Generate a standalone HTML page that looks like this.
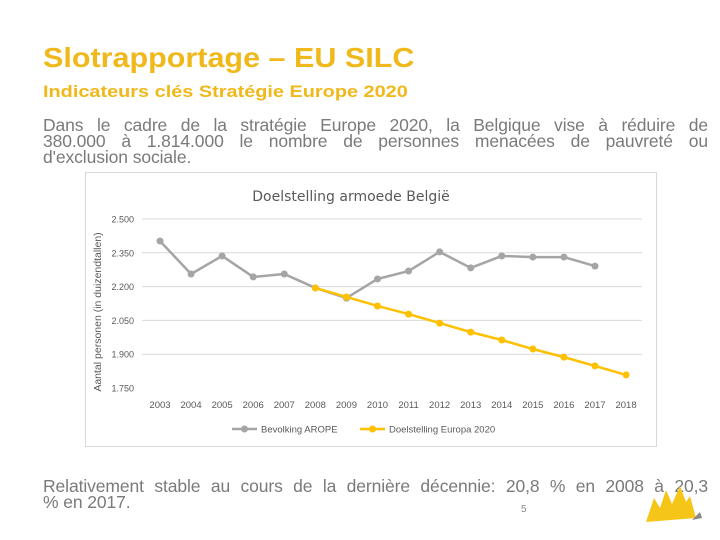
<!DOCTYPE html>
<html><head><meta charset="utf-8"><style>
body{margin:0;width:720px;height:540px;background:#fff;overflow:hidden;position:relative;font-family:"Liberation Sans",sans-serif}
.t{position:absolute;margin:0;white-space:nowrap}
.ln{position:absolute;left:43px;width:665px;font-size:17.5px;line-height:16px;color:#7a7a7a;text-align:justify;text-align-last:justify;white-space:normal;letter-spacing:-0.1px}
.last{text-align-last:left}
</style></head><body>
<h1 class="t" style="left:43px;top:42px;font-size:28px;font-weight:bold;color:#f0b81a;transform:scaleX(1.09);transform-origin:left top">Slotrapportage – EU SILC</h1>
<h2 class="t" style="left:43px;top:82px;font-size:17px;font-weight:bold;color:#f0b81a;transform:scaleX(1.17);transform-origin:left top">Indicateurs clés Stratégie Europe 2020</h2>
<div>
<div class="ln" style="top:117px">Dans le cadre de la stratégie Europe 2020, la Belgique vise à réduire de</div>
<div class="ln" style="top:133px">380.000 à 1.814.000 le nombre de personnes menacées de pauvreté ou</div>
<div class="ln last" style="top:149px">d'exclusion sociale.</div>
</div>
<div>
<div class="ln" style="top:478px">Relativement stable au cours de la dernière décennie: 20,8 % en 2008 à 20,3</div>
<div class="ln last" style="top:494px">% en 2017.</div>
</div>
<div class="t" style="left:521px;top:504px;font-size:10px;color:#888">5</div>
<svg style="position:absolute;left:640px;top:478px" width="70" height="46">
<path d="M6 44 L14 20 L20 30 L26 12 L32 26 L40 8 L46 24 L50 18 L56 40 Z" fill="#f5c518"/>
<path d="M52 42 L60 34 L62 40 Z" fill="#888"/>
</svg>
<svg id="chart" style="position:absolute;left:0;top:0" width="720" height="540"></svg>
<script>
const years=["2003","2004","2005","2006","2007","2008","2009","2010","2011","2012","2013","2014","2015","2016","2017","2018"];
const arope=[2402,2256,2336,2243,2256,2194,2149,2234,2269,2354,2283,2336,2331,2331,2291,null];
const target=[null,null,null,null,null,2194,2154,2114,2078,2038,1998,1963,1923,1887,1848,1808];
const yTicks=[1750,1900,2050,2200,2350,2500];
const yTickLabels=["1.750","1.900","2.050","2.200","2.350","2.500"];
const NS="http://www.w3.org/2000/svg",svg=document.getElementById("chart");
function el(t,a,p){const e=document.createElementNS(NS,t);for(const k in a)e.setAttribute(k,a[k]);(p||svg).appendChild(e);return e;}
const y0=388,y1=219,vMin=1750,vMax=2500,xA=160,xStep=31.07;
const Y=v=>y0-(v-vMin)/(vMax-vMin)*(y0-y1);
const X=i=>xA+i*xStep;
let e=el("rect",{x:85.5,y:172.5,width:571,height:274,fill:"#fff",stroke:"#d9d9d9"});


e=el("text",{x:351,y:201,"text-anchor":"middle","font-size":14,fill:"#595959","font-family":"DejaVu Sans, sans-serif"});e.textContent="Doelstelling armoede België";


e=el("text",{transform:"translate(101,312) rotate(-90)","text-anchor":"middle","font-size":10.5,fill:"#595959"});e.textContent="Aantal personen (in duizendtallen)";


yTicks.forEach((v,i)=>{
 if(i>0){const g=el("line",{x1:142,x2:642,y1:Y(v),y2:Y(v),stroke:"#d9d9d9"});
 
 }
 const t=el("text",{x:134,y:Y(v)+3.5,"text-anchor":"end","font-size":9,fill:"#595959"});t.textContent=yTickLabels[i];
 
 
});
years.forEach((yr,i)=>{const t=el("text",{x:X(i),y:408,"text-anchor":"middle","font-size":9.5,fill:"#595959"});t.textContent=yr;
 
 });
function series(vals,color,name){
 const pts=vals.map((v,i)=>v==null?null:X(i)+","+Y(v)).filter(p=>p);
 const l=el("polyline",{points:pts.join(" "),fill:"none",stroke:color,"stroke-width":2.5,"stroke-linejoin":"round"});
 
 
 vals.forEach((v,i)=>{if(v==null)return;const c=el("circle",{cx:X(i),cy:Y(v),r:3.5,fill:color});
  
  });
}
series(arope,"#a5a5a5","arope");
series(target,"#ffc000","target");
[[232,"#a5a5a5","Bevolking AROPE","legend-arope"],[360,"#ffc000","Doelstelling Europa 2020","legend-target"]].forEach(([x,c,txt,n])=>{
 const g=el("g",{});
 
 
 el("line",{x1:x,x2:x+25,y1:429,y2:429,stroke:c,"stroke-width":2.5},g);
 el("circle",{cx:x+12.5,cy:429,r:3.5,fill:c},g);
 const t=el("text",{x:x+29,y:432.5,"font-size":9.5,fill:"#595959"},g);t.textContent=txt;
});
</script>
</body></html>
